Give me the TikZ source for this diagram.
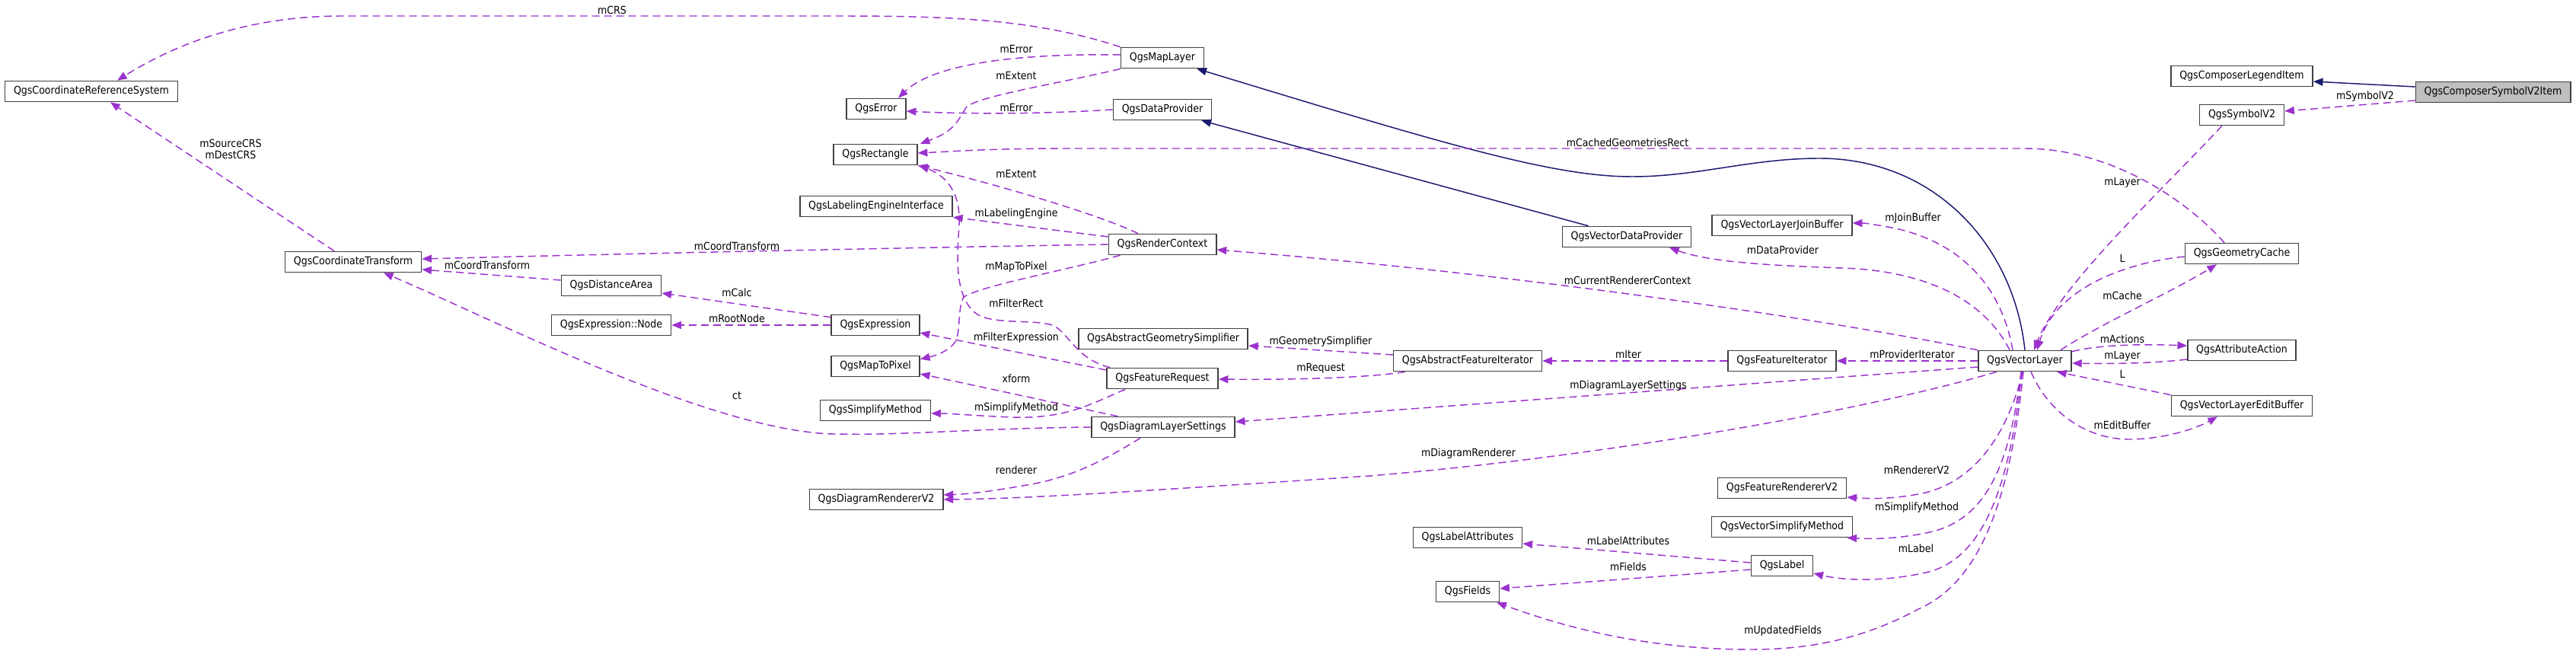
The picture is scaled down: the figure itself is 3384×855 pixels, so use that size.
\documentclass[tikz,border=0pt]{standalone}
\usepackage{fontspec}
\setmainfont{DejaVu Sans}[FakeStretch=0.9]
\usetikzlibrary{arrows.meta,calc}
\definecolor{usecol}{HTML}{9A32CD}
\definecolor{inhcol}{HTML}{191970}
\definecolor{curgray}{HTML}{BFBFBF}

\begin{document}
\begin{tikzpicture}[
  x=0.75pt, y=-0.75pt,
  >={Triangle[length=9.5pt,width=7.5pt]},
  every node/.style={font=\fontsize{10.5pt}{11.5pt}\selectfont},
  cls/.style={draw=black!75, line width=1.2pt, fill=white, minimum height=20.25pt,
              inner xsep=8.5pt, inner ysep=0pt},
  usage/.style={draw=usecol, line width=1.1pt, dash pattern=on 7.5pt off 4.5pt, ->},
  inh/.style={draw=inhcol, line width=1.1pt, ->},
  elab/.style={inner sep=1pt}
]
  \useasboundingbox (0,0) rectangle (3384,855);

  % classes
  \node[cls] (crs) at (120,120) {QgsCoordinateReferenceSystem};
  \node[cls] (ct) at (464,344) {QgsCoordinateTransform};
  \node[cls] (da) at (803,375) {QgsDistanceArea};
  \node[cls] (exn) at (803,427) {QgsExpression::Node};
  \node[cls] (err) at (1151,143) {QgsError};
  \node[cls] (rect) at (1150,203) {QgsRectangle};
  \node[cls] (lei) at (1151,271) {QgsLabelingEngineInterface};
  \node[cls] (expr) at (1150,427) {QgsExpression};
  \node[cls] (m2p) at (1150,481) {QgsMapToPixel};
  \node[cls] (sm) at (1150,539) {QgsSimplifyMethod};
  \node[cls] (drv) at (1151,656) {QgsDiagramRendererV2};
  \node[cls] (ml) at (1527,76) {QgsMapLayer};
  \node[cls] (dp) at (1527,144) {QgsDataProvider};
  \node[cls] (rc) at (1527,321) {QgsRenderContext};
  \node[cls] (ags) at (1528,445) {QgsAbstractGeometrySimplifier};
  \node[cls] (freq) at (1527,497) {QgsFeatureRequest};
  \node[cls] (dls) at (1528,561) {QgsDiagramLayerSettings};
  \node[cls] (afi) at (1928,474) {QgsAbstractFeatureIterator};
  \node[cls] (la) at (1928,706) {QgsLabelAttributes};
  \node[cls] (fld) at (1928,777) {QgsFields};
  \node[cls] (vdp) at (2137,311) {QgsVectorDataProvider};
  \node[cls] (jb) at (2341,296) {QgsVectorLayerJoinBuffer};
  \node[cls] (fi) at (2341,474) {QgsFeatureIterator};
  \node[cls] (frv) at (2341,641) {QgsFeatureRendererV2};
  \node[cls] (vsm) at (2341,692) {QgsVectorSimplifyMethod};
  \node[cls] (qlab) at (2341,743) {QgsLabel};
  \node[cls] (vl) at (2660,474) {QgsVectorLayer};
  \node[cls] (cleg) at (2945,100) {QgsComposerLegendItem};
  \node[cls] (sym) at (2945,151) {QgsSymbolV2};
  \node[cls] (gc) at (2945,333) {QgsGeometryCache};
  \node[cls] (aa) at (2945,460) {QgsAttributeAction};
  \node[cls] (eb) at (2945,533) {QgsVectorLayerEditBuffer};
  \node[cls, fill=curgray] (csym) at (3275,121) {QgsComposerSymbolV2Item};

  % inheritance
  \draw[inh] ($(csym.west)+(0,-7)$) -- ($(cleg.east)+(0,7)$);
  \draw[inh] ($(vdp.north west)+(35,0)$) -- ($(dp.south east)+(-14,0)$);
  \draw[inh] (vl.north) .. controls (2645,320) and (2540,208) .. (2390,208)
    .. controls (2300,208) and (2230,232) .. (2144,232)
    .. controls (2040,232) and (1900,190) .. ($(ml.south east)+(-10,0)$);

  % usage, left part
  \draw[usage] (ml.north west) .. controls (1360,25) and (1250,21) .. (1100,21) -- (450,21)
    .. controls (330,21) and (235,55) .. ($(crs.north)+(34,0)$)
    node[elab] (t-mcrs) at (804,13) {mCRS};
  \draw[usage] ($(ml.west)+(0,-4)$) .. controls (1330,70) and (1225,85) .. ($(err.north)+(29,0)$)
    node[elab] (t-merr1) at (1335,65) {mError};
  \draw[usage] (ml.south west) .. controls (1400,108) and (1290,125) .. (1270,140)
    .. controls (1258,158) and (1255,172) .. ($(rect.north east)+(3,0)$)
    node[elab] (t-mext1) at (1335,99) {mExtent};
  \draw[usage] (dp.west) .. controls (1350,151) and (1250,149) .. ($(err.east)+(0,3)$)
    node[elab] (t-merr2) at (1335,141) {mError};
  \draw[usage] ($(gc.north)+(-23,0)$) .. controls (2870,260) and (2770,195) .. (2660,195) -- (1400,195)
    .. controls (1300,195) and (1250,199) .. ($(rect.east)+(0,-2)$)
    node[elab] (t-mcgr) at (2138,187) {mCachedGeometriesRect};
  \draw[usage] ($(rc.north)+(-32,0)$) .. controls (1440,280) and (1300,240) .. (rect.south east)
    node[elab] (t-mext2) at (1335,228) {mExtent};
  \draw[usage] ($(freq.north west)+(5,0)$) .. controls (1415,472) and (1405,440) .. (1385,428)
    .. controls (1360,418) and (1300,428) .. (1280,410)
    .. controls (1252,385) and (1258,330) .. (1260,295)
    .. controls (1262,255) and (1245,232) .. ($(rect.south east)+(2,0)$)
    node[elab] (t-mfr) at (1335,398) {mFilterRect};
  \draw[usage] ($(rc.west)+(0,-10)$) -- (lei.south east)
    node[elab] (t-mle) at (1335,281) {mLabelingEngine};
  \draw[usage] (rc.west) .. controls (1100,327) and (800,334) .. ($(ct.east)+(0,-4)$)
    node[elab] (t-mct1) at (968,323) {mCoordTransform};
  \draw[usage] ($(rc.south west)+(16,0)$) .. controls (1400,355) and (1290,375) .. (1266,390)
    .. controls (1258,405) and (1262,430) .. (1256,447)
    .. controls (1248,462) and (1225,468) .. ($(m2p.north east)+(0,5)$)
    node[elab] (t-mmp) at (1335,351) {mMapToPixel};
  \draw[usage] ($(da.west)+(0,-7)$) -- ($(ct.east)+(0,10)$)
    node[elab] (t-mct2) at (640,348) {mCoordTransform};
  \draw[usage] ($(expr.north west)+(0,4)$) -- ($(da.east)+(0,10)$)
    node[elab] (t-mcalc) at (968,384) {mCalc};
  \draw[usage] (expr.west) -- (exn.east)
    node[elab] (t-mrn) at (968,418) {mRootNode};
  \draw[usage] ($(freq.west)+(0,-11)$) -- ($(expr.east)+(0,10)$)
    node[elab] (t-mfe) at (1335,444) {mFilterExpression};
  \draw[usage] ($(dls.north west)+(35,0)$) -- ($(m2p.east)+(0,10)$)
    node[elab] (t-xf) at (1335,497) {xform};
  \draw[usage] ($(freq.south west)+(25,0)$) .. controls (1430,532) and (1400,550) .. (1330,548)
    .. controls (1280,546) and (1250,543) .. ($(sm.east)+(0,4)$)
    node[elab] (t-msm1) at (1335,536) {mSimplifyMethod};
  \draw[usage] (dls.west) .. controls (1300,562) and (1180,572) .. (1110,570)
    .. controls (950,575) and (650,420) .. ($(ct.south)+(40,0)$)
    node[elab] (t-ct) at (968,520) {ct};
  \draw[usage] ($(dls.south)+(-30,0)$) .. controls (1450,605) and (1410,625) .. (1360,635)
    .. controls (1300,646) and (1270,649) .. ($(drv.east)+(0,-6)$)
    node[elab] (t-rend) at (1335,617) {renderer};
  \draw[usage] ($(ct.north)+(-25,0)$) -- ($(crs.south)+(25,0)$)
    node[elab, align=center] (t-mcrs2) at (303,196) {mSourceCRS\\mDestCRS};

  % usage, middle part
  \draw[usage] ($(afi.west)+(0,-8)$) -- ($(ags.east)+(0,9)$)
    node[elab] (t-mgs) at (1735,449) {mGeometrySimplifier};
  \draw[usage] ($(afi.south west)+(16,0)$) .. controls (1800,496) and (1700,499) .. ($(freq.east)+(0,1)$)
    node[elab] (t-mreq) at (1735,484) {mRequest};
  \draw[usage] (fi.west) -- (afi.east)
    node[elab] (t-mit) at (2139,465) {mIter};
  \draw[usage] ($(qlab.west)+(0,-4)$) -- ($(la.east)+(0,8)$)
    node[elab] (t-mla) at (2139,710) {mLabelAttributes};
  \draw[usage] ($(qlab.west)+(0,5)$) -- ($(fld.east)+(0,-4)$)
    node[elab] (t-mfld) at (2139,744) {mFields};

  % usage, from QgsVectorLayer
  \draw[usage] (vl.west) -- (fi.east)
    node[elab] (t-mpi) at (2512,465) {mProviderIterator};
  \draw[usage] (vl.north west) .. controls (2400,420) and (2000,360) .. ($(rc.east)+(0,7)$)
    node[elab] (t-mcrc) at (2138,368) {mCurrentRendererContext};
  \draw[usage] ($(vl.north west)+(42,0)$) .. controls (2610,400) and (2540,356) .. (2420,352)
    .. controls (2300,348) and (2240,342) .. ($(vdp.south)+(56,0)$)
    node[elab] (t-mdp) at (2342,328) {mDataProvider};
  \draw[usage] ($(vl.north west)+(46,0)$) .. controls (2630,380) and (2580,320) .. (2490,300)
    .. controls (2465,295) and (2450,293) .. ($(jb.east)+(0,-3)$)
    node[elab] (t-mjb) at (2513,287) {mJoinBuffer};
  \draw[usage] ($(vl.west)+(0,8)$) -- ($(dls.east)+(0,-7)$)
    node[elab] (t-mdls) at (2139,507) {mDiagramLayerSettings};
  \draw[usage] ($(vl.south west)+(25,0)$) .. controls (2450,540) and (2100,600) .. (1800,625)
    .. controls (1500,645) and (1350,655) .. (drv.east)
    node[elab] (t-mdr) at (1929,596) {mDiagramRenderer};
  \draw[usage] ($(vl.south)+(-3,0)$) .. controls (2640,560) and (2600,632) .. (2525,648)
    .. controls (2485,656) and (2455,655) .. ($(frv.east)+(0,12)$)
    node[elab] (t-mrv) at (2518,617) {mRendererV2};
  \draw[usage] ($(vl.south)+(-5,0)$) .. controls (2640,610) and (2610,685) .. (2530,700)
    .. controls (2490,708) and (2460,708) .. ($(vsm.south east)+(-8,0)$)
    node[elab] (t-msm2) at (2518,667) {mSimplifyMethod};
  \draw[usage] ($(vl.south)+(-4,0)$) .. controls (2640,640) and (2605,735) .. (2530,752)
    .. controls (2470,765) and (2420,762) .. ($(qlab.east)+(0,10)$)
    node[elab] (t-mlab) at (2517,720) {mLabel};
  \draw[usage] ($(vl.south)+(-2,0)$) .. controls (2640,660) and (2600,765) .. (2520,800)
    .. controls (2450,838) and (2380,853) .. (2300,853)
    .. controls (2150,853) and (2040,818) .. ($(fld.south east)+(-4,0)$)
    node[elab] (t-muf) at (2342,829) {mUpdatedFields};

  % usage, right part
  \draw[usage] ($(csym.west)+(0,11)$) -- ($(sym.east)+(0,-5)$)
    node[elab] (t-msym) at (3107,127) {mSymbolV2};
  \draw[usage] ($(sym.south west)+(30,0)$) .. controls (2845,245) and (2705,375) .. ($(vl.north)+(12,0)$)
    node[elab] (t-mlay1) at (2788,240) {mLayer};
  \draw[usage] ($(gc.west)+(0,4)$) .. controls (2790,345) and (2700,380) .. ($(vl.north)+(16,0)$)
    node[elab] (t-l1) at (2788,339) {L};
  \draw[usage] ($(vl.north east)+(-15,0)$) .. controls (2760,425) and (2850,385) .. ($(gc.south)+(-33,0)$)
    node[elab] (t-mcache) at (2788,388) {mCache};
  \draw[usage] ($(vl.north east)+(0,2)$) .. controls (2760,452) and (2820,452) .. ($(aa.west)+(0,-6)$)
    node[elab] (t-mact) at (2788,445) {mActions};
  \draw[usage] ($(aa.west)+(0,12)$) .. controls (2830,477) and (2780,478) .. ($(vl.east)+(0,3)$)
    node[elab] (t-mlay2) at (2788,468) {mLayer};
  \draw[usage] (eb.north west) -- ($(vl.south east)+(-20,0)$)
    node[elab] (t-l2) at (2788,491) {L};
  \draw[usage] ($(vl.south)+(8,0)$) .. controls (2690,540) and (2740,578) .. (2800,577)
    .. controls (2850,576) and (2890,560) .. ($(eb.south)+(-32,0)$)
    node[elab] (t-meb) at (2788,558) {mEditBuffer};
\end{tikzpicture}
\end{document}
